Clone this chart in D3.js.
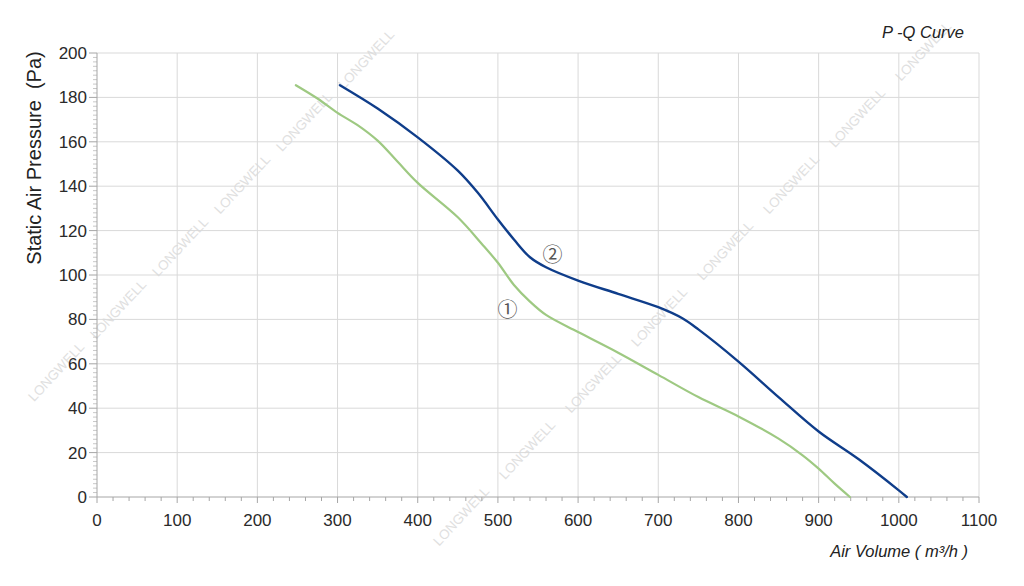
<!DOCTYPE html>
<html>
<head>
<meta charset="utf-8">
<script src="https://cdn.jsdelivr.net/npm/d3@7/dist/d3.min.js"></script>
<style>
  html, body { margin: 0; padding: 0; background: #fff; }
  svg { display: block; font-family: "Liberation Sans", Arial, sans-serif; }
</style>
</head>
<body>
<svg id="chart" width="1024" height="586"></svg>
<script>
// ---- data ----
const curve1Volume   = [248, 275, 300, 325, 350, 375, 400, 450, 480, 500, 520, 540, 560, 600, 650, 700, 750, 800, 850, 880, 900, 920, 939];
const curve1Pressure = [185.5, 179.5, 173, 167.5, 160.5, 151, 141.5, 126, 114, 105.5, 95.5, 88, 82, 74.3, 65, 55, 45, 36.3, 26.3, 18.8, 12.8, 6, 0];
const curve2Volume   = [303, 350, 400, 450, 475, 500, 520, 540, 560, 600, 650, 700, 730, 750, 800, 850, 900, 950, 1000, 1010];
const curve2Pressure = [185.5, 175, 162, 147, 137, 125, 116, 108, 103.5, 97.5, 91.5, 85.5, 80.5, 75.5, 61, 45, 29.5, 17, 3, 0];
const xTicks = [0, 100, 200, 300, 400, 500, 600, 700, 800, 900, 1000, 1100];
const yTicks = [0, 20, 40, 60, 80, 100, 120, 140, 160, 180, 200];
const curveLabels = ["①", "②"];
const labelAnchors = [{ q: 512, p: 85 }, { q: 568, p: 109.5 }];

const svg = d3.select("#chart");
const W = 1024, H = 586;
const m = { left: 97, top: 53, right: 45, bottom: 89 };
const x = d3.scaleLinear().domain([0, 1100]).range([m.left, W - m.right]);
const y = d3.scaleLinear().domain([0, 200]).range([H - m.bottom, m.top]);

// ---- watermark ----
const wm = svg.append("g").attr("fill", "#e0e0e0").attr("font-size", 13.5);
function wmLine(x0, y0, dx, dy, n) {
  for (let i = 0; i < n; i++) {
    const cx = x0 + dx * i, cy = y0 + dy * i;
    wm.append("text").attr("transform", `translate(${cx},${cy}) rotate(-47)`)
      .attr("text-anchor", "middle").attr("dominant-baseline", "middle").text("LONGWELL");
  }
}
wmLine(367, 60, -62, 62.5, 6);
wmLine(924, 52, -66, 66.4, 8);

// ---- grid ----
const grid = svg.append("g");
grid.selectAll(".gx").data(xTicks.slice(1)).enter().append("line")
  .attr("x1", d => x(d)).attr("x2", d => x(d)).attr("y1", y(0)).attr("y2", y(200))
  .attr("stroke", "#d9d9d9").attr("stroke-width", 1);
grid.selectAll(".gy").data(yTicks.slice(1)).enter().append("line")
  .attr("x1", x(0)).attr("x2", x(1100)).attr("y1", d => y(d)).attr("y2", d => y(d))
  .attr("stroke", "#d9d9d9").attr("stroke-width", 1);

// ---- axes ----
const axisColor = "#a6a6a6";
const xMinor = d3.range(0, 1101, 20);
const yMinor = d3.range(0, 201, 2);
const xAxisG = svg.append("g").attr("transform", `translate(0,${y(0)})`);
xAxisG.selectAll(".mt").data(xMinor).enter().append("line")
  .attr("x1", d => x(d)).attr("x2", d => x(d)).attr("y1", 0).attr("y2", d => d % 100 === 0 ? 6 : 4)
  .attr("stroke", axisColor);
xAxisG.append("line").attr("x1", x(0)).attr("x2", x(1100)).attr("stroke", axisColor);
xAxisG.selectAll(".tl").data(xTicks).enter().append("text")
  .attr("x", d => x(d)).attr("y", 29).attr("text-anchor", "middle")
  .attr("font-size", 17).attr("fill", "#2a2a2a").text(d => d);

const yAxisG = svg.append("g").attr("transform", `translate(${x(0)},0)`);
yAxisG.selectAll(".mt").data(yMinor).enter().append("line")
  .attr("y1", d => y(d)).attr("y2", d => y(d)).attr("x1", d => d % 20 === 0 ? -8 : -4).attr("x2", 0)
  .attr("stroke", d => d % 20 === 0 ? axisColor : "#c8c8c8");
yAxisG.append("line").attr("y1", y(0)).attr("y2", y(200)).attr("stroke", axisColor);
yAxisG.selectAll(".tl").data(yTicks).enter().append("text")
  .attr("x", -10).attr("y", d => y(d) + 6).attr("text-anchor", "end")
  .attr("font-size", 17).attr("fill", "#2a2a2a").text(d => d);

// ---- titles ----
svg.append("text").attr("transform", "translate(41,158) rotate(-90)")
  .attr("text-anchor", "middle").attr("font-size", 20).attr("fill", "#222")
  .style("white-space", "pre")
  .text("Static Air Pressure  (Pa)");
svg.append("text").attr("x", 964).attr("y", 38).attr("text-anchor", "end")
  .attr("font-size", 16.5).attr("font-style", "italic").attr("fill", "#222")
  .style("white-space", "pre").text("P -Q Curve");
svg.append("text").attr("x", 968).attr("y", 557).attr("text-anchor", "end")
  .attr("font-size", 16.5).attr("font-style", "italic").attr("fill", "#222")
  .style("white-space", "pre").text("Air Volume ( m³/h )");

// ---- curves ----
const line = d3.line().x(d => x(d[0])).y(d => y(d[1])).curve(d3.curveCatmullRom.alpha(0.5));
const c1 = curve1Volume.map((v, i) => [v, curve1Pressure[i]]);
const c2 = curve2Volume.map((v, i) => [v, curve2Pressure[i]]);
svg.append("path").datum(c1).attr("d", line).attr("fill", "none")
  .attr("stroke", "#9ec982").attr("stroke-width", 2.2).attr("stroke-linecap", "round");
svg.append("path").datum(c2).attr("d", line).attr("fill", "none")
  .attr("stroke", "#0f3d8a").attr("stroke-width", 2.4).attr("stroke-linecap", "round");

// ---- curve labels ----
svg.selectAll(".cl").data(curveLabels).enter().append("text")
  .attr("x", (d, i) => x(labelAnchors[i].q)).attr("y", (d, i) => y(labelAnchors[i].p))
  .attr("text-anchor", "middle").attr("dominant-baseline", "central")
  .attr("font-size", 20).attr("fill", "#555")
  .style("font-family", "'Noto Sans CJK SC', 'DejaVu Sans', sans-serif")
  .text(d => d);
</script>
</body>
</html>
